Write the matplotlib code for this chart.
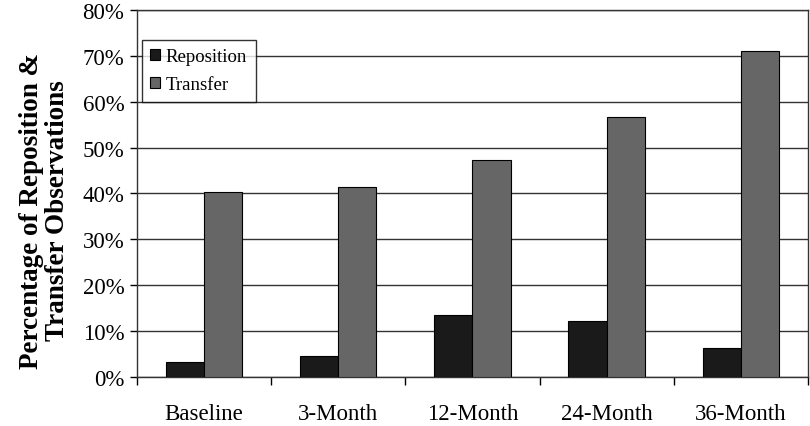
import numpy as np
import matplotlib
matplotlib.use("Agg")
import matplotlib.pyplot as plt
from matplotlib.ticker import PercentFormatter

# data
categories = ["Baseline", "3-Month", "12-Month", "24-Month", "36-Month"]
reposition = [3.3, 4.6, 13.5, 12.2, 6.3]
transfer = [40.3, 41.5, 47.3, 56.7, 71.0]

plt.rcParams['font.family'] = ['Liberation Serif', 'DejaVu Serif']

fig = plt.figure(figsize=(8.1, 4.27), dpi=100)
ax = fig.add_axes([0.169, 0.115, 0.8285, 0.859])

x = np.arange(len(categories))
w = 0.285
ax.bar(x - w / 2, reposition, w, color="#1a1a1a", edgecolor="black", linewidth=0.8,
       label="Reposition", zorder=3)
ax.bar(x + w / 2, transfer, w, color="#666666", edgecolor="black", linewidth=0.8,
       label="Transfer", zorder=3)

ax.set_xlim(-0.5, len(categories) - 0.5)
ax.set_ylim(0, 80)
ax.set_yticks(np.arange(0, 81, 10))
ax.yaxis.set_major_formatter(PercentFormatter(decimals=0))
ax.grid(axis="y", color="#333333", linewidth=1.0, zorder=0)

# category labels centred, tick marks between categories
ax.set_xticks(x)
ax.set_xticklabels(categories)
ax.set_xticks(np.arange(-0.5, len(categories), 1.0), minor=True)
ax.tick_params(axis="x", which="major", length=0, pad=19, labelsize=16.5)
ax.tick_params(axis="x", which="minor", length=6, width=1.0, direction="out")
ax.tick_params(axis="y", length=5, width=1.0, direction="out", labelsize=16.5, pad=4)

for s in ax.spines.values():
    s.set_color("#333333")
    s.set_linewidth(1.0)

ax.set_ylabel("Percentage of Reposition &\nTransfer Observations", fontsize=19.5,
              fontweight="bold", linespacing=1.05)
ax.yaxis.set_label_coords(-0.1, 0.455)

leg = ax.legend(loc="upper left", bbox_to_anchor=(-0.007, 0.945), fontsize=13.5,
                frameon=True, fancybox=False, edgecolor="black", handlelength=0.55,
                handleheight=0.55, handletextpad=0.3, borderpad=0.45, labelspacing=0.6)
leg.get_frame().set_linewidth(1.0)

fig.savefig("out.png", dpi=100)
